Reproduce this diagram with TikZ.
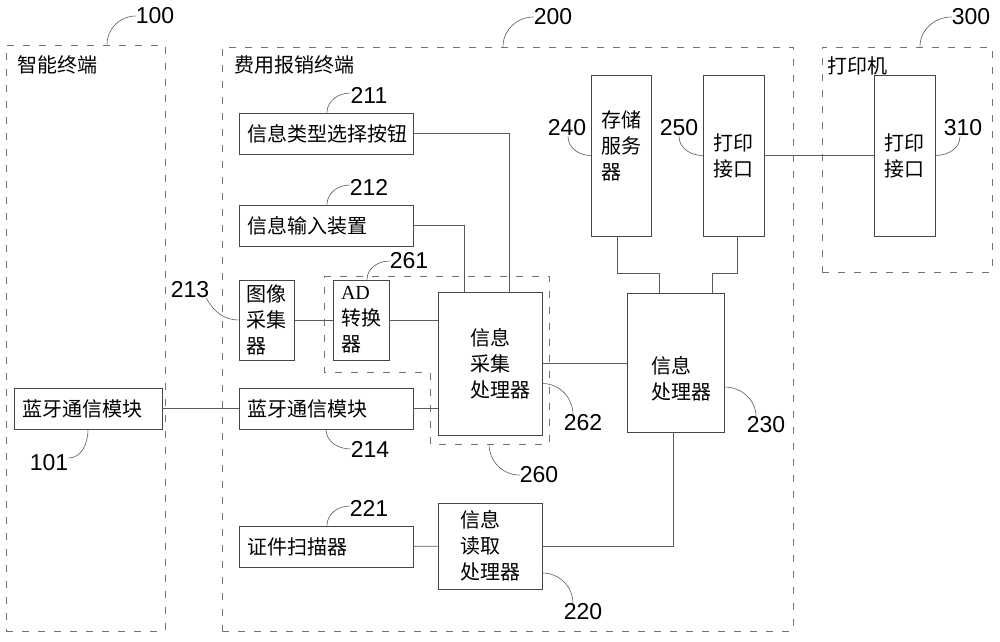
\documentclass[tikz,border=0pt]{standalone}
\usepackage{fontspec}
\setmainfont{Liberation Sans}
\newfontfamily\cjk{Noto Sans CJK SC}
\newfontfamily\latinserif{Liberation Serif}
\definecolor{frameline}{RGB}{115,115,115}
\definecolor{boxline}{RGB}{70,70,70}
\definecolor{wireline}{RGB}{90,90,90}
\tikzstyle{unitbox}=[draw=boxline, line width=.8pt, inner sep=0pt, font=\cjk\fontsize{20}{26}\selectfont]
\tikzset{widebox/.style={unitbox, text width=#1, inner xsep=8pt, align=left, minimum height=41}}
\tikzset{tallbox/.style={unitbox, align=left}}
\tikzset{boxtext/.style={inner sep=0pt, align=left, font=\cjk\fontsize{20}{26}\selectfont}}
\tikzstyle{dashframe}=[draw=frameline, line width=.8pt, dash pattern=on 7pt off 9pt]
\tikzstyle{wire}=[draw=wireline, line width=.8pt]
\tikzstyle{leadline}=[draw=wireline, line width=.6pt]
\tikzstyle{refnum}=[inner sep=0pt, font=\fontsize{23}{23}\selectfont]
\tikzstyle{frametitle}=[inner sep=0pt, anchor=west, font=\cjk\fontsize{20}{24}\selectfont]

\begin{document}
\begin{tikzpicture}[x=1pt,y=1pt]
  \useasboundingbox (0,0) rectangle (1000,-641);
  %% Terminals
  \draw (85.5,-338) node[dashframe, minimum width=159, minimum height=586] (B100) {};
  \draw (507.5,-339) node[dashframe, minimum width=571, minimum height=584] (B200) {};
  \draw (907,-159.5) node[dashframe, minimum width=170, minimum height=225] (B300) {};
  \draw[dashframe] (324,-276) -- (549,-276) -- (549,-444) -- (430,-444) -- (430,-372) -- (324,-372) -- cycle;
  \coordinate (B260) at (489,-444);

  \draw (17,-65) node[frametitle] (L100) {智能终端};
  \draw (234,-65) node[frametitle] (L200) {费用报销终端};
  \draw (827,-66) node[frametitle] (L300) {打印机};

  %% Blocks
  \draw (88,-408.5) node[widebox=132pt] (T101) {蓝牙通信模块};
  \draw (326,-133.5) node[widebox=158pt] (T211) {信息类型选择按钮};
  \draw (326,-225.5) node[widebox=158pt] (T212) {信息输入装置};
  \draw (326,-408.5) node[widebox=158pt] (T214) {蓝牙通信模块};
  \draw (326,-546.5) node[widebox=158pt] (T221) {证件扫描器};
  \draw (266.5,-320) node[tallbox, minimum width=55, minimum height=80] (T213) {图像\\采集\\器};
  \draw (361,-320) node[tallbox, minimum width=56, minimum height=80] (T261) {{\latinserif AD}\\转换\\器};
  \draw (490,-363.5) node[tallbox, minimum width=104, minimum height=143,
    label={[boxtext, name=X262, xshift=10pt]center:{信息\\采集\\处理器}}] (T262) {};
  \draw (490,-546) node[tallbox, minimum width=104, minimum height=86] (T220) {信息\\读取\\处理器};
  \draw (675.5,-362.5) node[tallbox, minimum width=97, minimum height=139,
    label={[boxtext, name=X230, xshift=6pt, yshift=-16pt]center:{信息\\处理器}}] (T230) {};
  \draw (621,-155.5) node[tallbox, minimum width=60, minimum height=161,
    label={[boxtext, name=X240, yshift=10pt]center:{存储\\服务\\器}}] (T240) {};
  \draw (733.5,-155.5) node[tallbox, minimum width=61, minimum height=161] (T250) {打印\\接口};
  \draw (904.5,-155.5) node[tallbox, minimum width=61, minimum height=161] (T310) {打印\\接口};

  %% Wires
  \draw[wire] (T211.east) -| ([xshift=19]T262.north);
  \draw[wire] (T212.east) -| ([xshift=-26]T262.north);
  \draw[wire] (T213) -- (T261);
  \draw[wire] (T261.east) -- (T261.east -| T262.west);
  \draw[wire] (T214.east) -- (T214.east -| T262.west);
  \draw[wire] (T101) -- (T214);
  \draw[wire] (T262.east) -- (T262.east -| T230.west);
  \draw[wire] ([xshift=-4]T240.south) -- ++(0,-37) -| ([xshift=-16.5]T230.north);
  \draw[wire] ([xshift=3.5]T250.south) -- ++(0,-37) -| ([xshift=36.5]T230.north);
  \draw[wire] (T250) -- (T310);
  \draw[wire] ([xshift=-2.5]T230.south) |- (T220.east);
  \draw[wire] (T221) -- (T220);

  %% Reference numbers
  \draw (155,-16) node[refnum] (N100) {100};
  \draw (553,-17) node[refnum] (N200) {200};
  \draw (971,-17) node[refnum] (N300) {300};
  \draw (369,-95) node[refnum] (N211) {211};
  \draw (369,-187) node[refnum] (N212) {212};
  \draw (369,-508) node[refnum] (N221) {221};
  \draw (409,-261) node[refnum] (N261) {261};
  \draw (190,-290) node[refnum] (N213) {213};
  \draw (370,-449) node[refnum] (N214) {214};
  \draw (539,-475) node[refnum] (N260) {260};
  \draw (583,-423) node[refnum] (N262) {262};
  \draw (766,-425) node[refnum] (N230) {230};
  \draw (583,-612) node[refnum] (N220) {220};
  \draw (567,-128) node[refnum] (N240) {240};
  \draw (679,-128) node[refnum] (N250) {250};
  \draw (963,-128) node[refnum] (N310) {310};
  \draw (49,-463) node[refnum] (N101) {101};

  \draw[leadline] ([xshift=21.5]B100.north) to[out=90,in=180] (N100.west);
  \draw[leadline] ([xshift=-4.5]B200.north) to[out=90,in=180] (N200.west);
  \draw[leadline] ([xshift=13]B300.north) to[out=90,in=180] (N300.west);
  \draw[leadline] ([xshift=1]T211.north) to[out=90,in=180] ([yshift=2]N211.west);
  \draw[leadline] ([xshift=1]T212.north) to[out=90,in=180] ([yshift=2]N212.west);
  \draw[leadline] ([xshift=1]T221.north) to[out=90,in=180] ([yshift=2]N221.west);
  \draw[leadline] ([xshift=6]T261.north) to[out=90,in=180] (N261.west);
  \draw[leadline] (T213.west) to[out=180,in=-60] ([xshift=-3]N213.south east);
  \draw[leadline] (T214.south) to[out=-90,in=180] (N214.west);
  \draw[leadline] (B260) to[out=-90,in=180] (N260.west);
  \draw[leadline] ([yshift=-20]T262.east) to[out=0,in=90] ([xshift=-10]N262.north);
  \draw[leadline] ([yshift=-24.5]T230.east) to[out=0,in=90] ([xshift=-10]N230.north);
  \draw[leadline] ([yshift=-27]T220.east) to[out=0,in=90] ([xshift=-10]N220.north);
  \draw[leadline] (T240.west) to[out=180,in=-90] ([xshift=1]N240.south);
  \draw[leadline] (T250.west) to[out=180,in=-90] (N250.south);
  \draw[leadline] (T310.east) to[out=0,in=-90] ([xshift=-3]N310.south);
  \draw[leadline] (T101.south) to[out=-90,in=0] ([yshift=5]N101.east);
\end{tikzpicture}
\end{document}
